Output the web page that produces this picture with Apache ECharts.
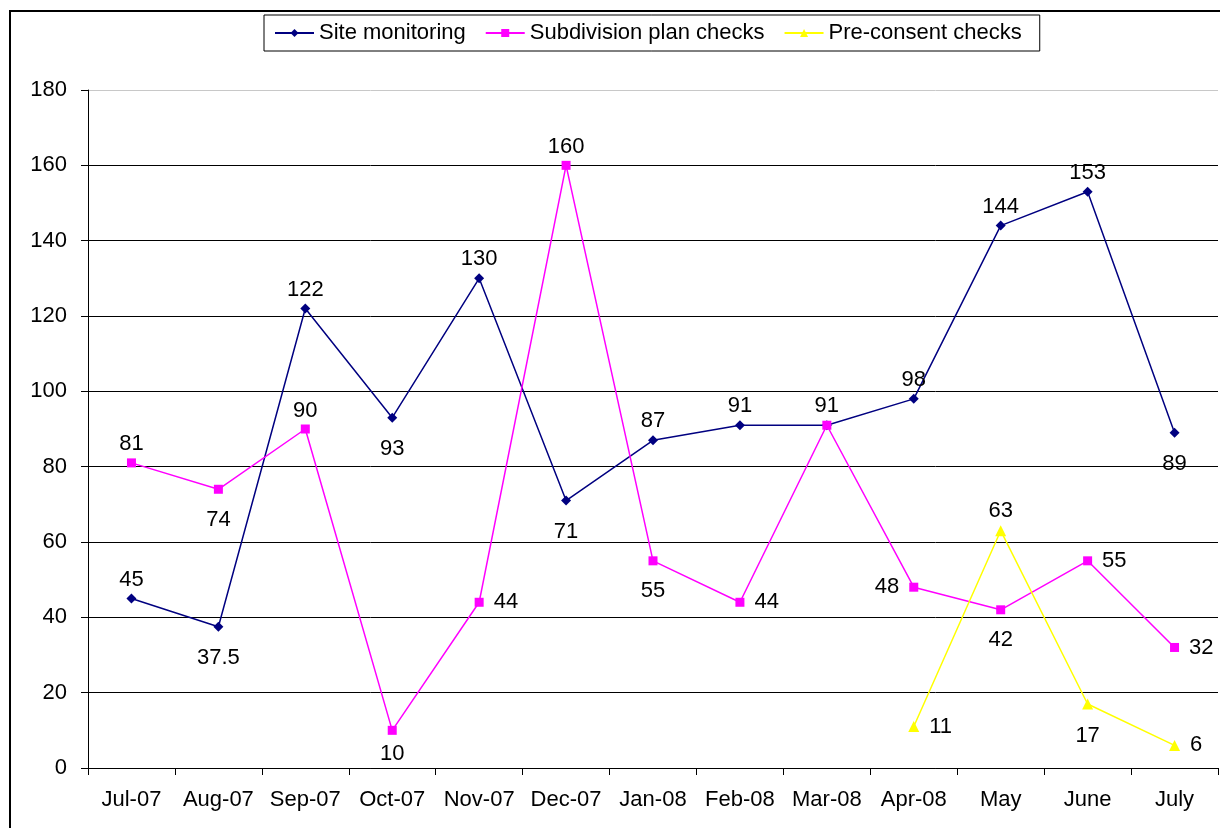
<!DOCTYPE html>
<html>
<head>
<meta charset="utf-8">
<script src="https://cdn.jsdelivr.net/npm/echarts@6/dist/echarts.min.js"></script>
<style>html,body{margin:0;padding:0;background:#fff;}#c{width:1220px;height:828px;}</style>
</head>
<body>
<div id="c"></div>
<script>
const categories = ['Jul-07','Aug-07','Sep-07','Oct-07','Nov-07','Dec-07','Jan-08','Feb-08','Mar-08','Apr-08','May','June','July'];
const siteMonitoring = [45, 37.5, 122, 93, 130, 71, 87, 91, 91, 98, 144, 153, 89];
const subdivisionChecks = [81, 74, 90, 10, 44, 160, 55, 44, 91, 48, 42, 55, 32];
const preConsentChecks = [null, null, null, null, null, null, null, null, null, 11, 63, 17, 6];
const yTicks = [0, 20, 40, 60, 80, 100, 120, 140, 160, 180];

const sitePos = ['top','bottom','top','bottom','top','bottom','top','top','top','top','top','top','bottom'];
const subPos = ['top','bottom','top','bottomNear','right','top','bottom','right',null,'left','bottom','right','right'];
const prePos = [null,null,null,null,null,null,null,null,null,'right','top','bottom','right'];
const posDist = { top: 3, bottom: 15, bottomNear: 8, right: 10, left: 10 };

function build(values, pos) {
  return values.map((v, i) => {
    if (v === null) return null;
    const p = pos[i];
    if (!p) return { value: v, label: { show: false } };
    return { value: v, label: { position: p === 'bottomNear' ? 'bottom' : p, distance: posDist[p] } };
  });
}
const FONT = 'Liberation Sans, Arial, sans-serif';
const labelBase = { show: true, color: '#000', fontFamily: FONT, fontSize: 22 };

const chart = echarts.init(document.getElementById('c'), null, { renderer: 'canvas' });
chart.setOption({
  animation: false,
  backgroundColor: '#fff',
  textStyle: { fontFamily: FONT },
  graphic: [{
    type: 'rect', shape: { x: 10, y: 11, width: 1230, height: 840 },
    style: { fill: 'none', stroke: '#000', lineWidth: 2 }, silent: true, z: -1
  }],
  legend: {
    top: 15, left: 264,
    padding: [7, 18, 7, 10],
    borderColor: '#000', borderWidth: 1,
    itemWidth: 39, itemHeight: 10, itemGap: 19,
    textStyle: { fontSize: 22, color: '#000', fontFamily: FONT },
    data: ['Site monitoring', 'Subdivision plan checks', 'Pre-consent checks']
  },
  grid: { left: 88, right: 2, top: 90, bottom: 60, containLabel: false },
  xAxis: {
    type: 'category', data: categories, boundaryGap: true,
    axisLine: { lineStyle: { color: '#000', width: 1 } },
    axisTick: { show: true, length: 7, lineStyle: { color: '#000' } },
    axisLabel: { color: '#000', fontSize: 22, margin: 21, interval: 0, fontFamily: FONT },
    splitLine: { show: false }
  },
  yAxis: {
    type: 'value', min: yTicks[0], max: yTicks[yTicks.length - 1], interval: 20,
    axisLine: { show: true, lineStyle: { color: '#000', width: 1 } },
    axisTick: { show: true, length: 7, lineStyle: { color: '#000' } },
    axisLabel: { color: '#000', fontSize: 22, margin: 21, fontFamily: FONT },
    splitLine: { show: true, lineStyle: { color: ['#000','#000','#000','#000','#000','#000','#000','#000','#000','#c8c8c8'], width: 1 } }
  },
  series: [
    {
      name: 'Site monitoring', type: 'line', data: build(siteMonitoring, sitePos),
      color: '#000080', symbol: 'diamond', symbolSize: 10,
      lineStyle: { width: 1.5, color: '#000080' }, itemStyle: { color: '#000080' },
      label: labelBase
    },
    {
      name: 'Subdivision plan checks', type: 'line', data: build(subdivisionChecks, subPos),
      color: '#ff00ff', symbol: 'rect', symbolSize: 9,
      lineStyle: { width: 1.5, color: '#ff00ff' }, itemStyle: { color: '#ff00ff' },
      label: labelBase
    },
    {
      name: 'Pre-consent checks', type: 'line', data: build(preConsentChecks, prePos),
      color: '#ffff00', symbol: 'triangle', symbolSize: 11, connectNulls: false,
      lineStyle: { width: 1.5, color: '#ffff00' }, itemStyle: { color: '#ffff00' },
      label: labelBase
    }
  ]
});
</script>
</body>
</html>
